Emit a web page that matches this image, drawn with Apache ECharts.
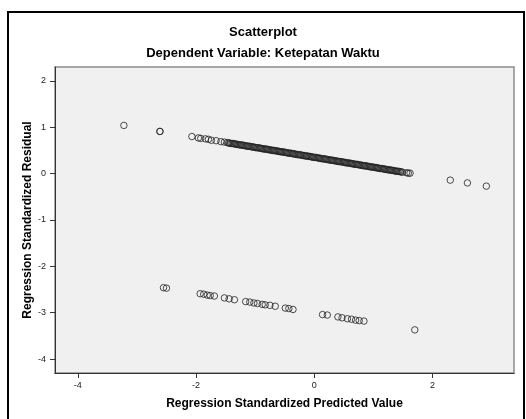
<!DOCTYPE html>
<html><head><meta charset="utf-8">
<script src="https://cdn.jsdelivr.net/npm/echarts@6/dist/echarts.min.js"></script>
<style>html,body{margin:0;padding:0;background:#fff;}#c{width:526px;height:419px;}</style>
</head><body><div id="c"></div>
<script>
const titleText = 'Scatterplot';
const subtitleText = 'Dependent Variable: Ketepatan Waktu';
const xAxisName = 'Regression Standardized Predicted Value';
const yAxisName = 'Regression Standardized Residual';
const xTicks = [-4, -2, 0, 2];
const yTicks = [-4, -3, -2, -1, 0, 1, 2];

// Upper band: isolated points on the left, then the dense band, then right outliers
const upperX = [-3.22, -2.61, -2.61, -2.07, -1.96, -1.92, -1.84, -1.79, -1.74, -1.66, -1.58, -1.52, -1.47,
  -1.45, -1.43, -1.41, -1.39, -1.37, -1.35, -1.33, -1.31, -1.29, -1.27, -1.25, -1.23, -1.21, -1.19, -1.17, -1.15, -1.13, -1.11, -1.09, -1.07, -1.05, -1.03, -1.01,
  -0.99, -0.97, -0.95, -0.93, -0.91, -0.89, -0.87, -0.85, -0.83, -0.81, -0.79, -0.77, -0.75, -0.73, -0.71, -0.69, -0.67, -0.65, -0.63, -0.61, -0.59, -0.57, -0.55, -0.53, -0.51,
  -0.49, -0.47, -0.45, -0.43, -0.41, -0.39, -0.37, -0.35, -0.33, -0.31, -0.29, -0.27, -0.25, -0.23, -0.21, -0.19, -0.17, -0.15, -0.13, -0.11, -0.09, -0.07, -0.05, -0.03, -0.01,
  0.01, 0.03, 0.05, 0.07, 0.09, 0.11, 0.13, 0.15, 0.17, 0.19, 0.21, 0.23, 0.25, 0.27, 0.29, 0.31, 0.33, 0.35, 0.37, 0.39, 0.41, 0.43, 0.45, 0.47, 0.49,
  0.51, 0.53, 0.55, 0.57, 0.59, 0.61, 0.63, 0.65, 0.67, 0.69, 0.71, 0.73, 0.75, 0.77, 0.79, 0.81, 0.83, 0.85, 0.87, 0.89, 0.91, 0.93, 0.95, 0.97, 0.99,
  1.01, 1.03, 1.05, 1.07, 1.09, 1.11, 1.13, 1.15, 1.17, 1.19, 1.21, 1.23, 1.25, 1.27, 1.29, 1.31, 1.33, 1.35, 1.37, 1.39, 1.41, 1.43, 1.45, 1.47, 1.49,
  1.56, 1.59, 1.62, 2.30, 2.59, 2.91];
const upperY = [1.04, 0.91, 0.91, 0.80, 0.77, 0.76, 0.75, 0.74, 0.72, 0.71, 0.69, 0.68, 0.67,
  0.66, 0.66, 0.65, 0.65, 0.65, 0.64, 0.64, 0.63, 0.63, 0.62, 0.62, 0.62, 0.61, 0.61, 0.60, 0.60, 0.59, 0.59, 0.59, 0.58, 0.58, 0.57, 0.57,
  0.56, 0.56, 0.56, 0.55, 0.55, 0.54, 0.54, 0.53, 0.53, 0.53, 0.52, 0.52, 0.51, 0.51, 0.50, 0.50, 0.50, 0.49, 0.49, 0.48, 0.48, 0.47, 0.47, 0.47, 0.46,
  0.46, 0.45, 0.45, 0.44, 0.44, 0.44, 0.43, 0.43, 0.42, 0.42, 0.41, 0.41, 0.41, 0.40, 0.40, 0.39, 0.39, 0.38, 0.38, 0.38, 0.37, 0.37, 0.36, 0.36, 0.35,
  0.35, 0.35, 0.34, 0.34, 0.33, 0.33, 0.32, 0.32, 0.32, 0.31, 0.31, 0.30, 0.30, 0.29, 0.29, 0.29, 0.28, 0.28, 0.27, 0.27, 0.26, 0.26, 0.26, 0.25, 0.25,
  0.24, 0.24, 0.23, 0.23, 0.23, 0.22, 0.22, 0.21, 0.21, 0.20, 0.20, 0.20, 0.19, 0.19, 0.18, 0.18, 0.17, 0.17, 0.17, 0.16, 0.16, 0.15, 0.15, 0.14, 0.14,
  0.14, 0.13, 0.13, 0.12, 0.12, 0.11, 0.11, 0.11, 0.10, 0.10, 0.09, 0.09, 0.08, 0.08, 0.08, 0.07, 0.07, 0.06, 0.06, 0.05, 0.05, 0.05, 0.04, 0.04, 0.03,
  0.02, 0.01, 0.01, -0.14, -0.20, -0.27];

// Lower band
const lowerX = [-2.55, -2.50, -1.93, -1.87, -1.81, -1.76, -1.69, -1.52, -1.44, -1.35, -1.16, -1.09, -1.02, -0.96, -0.88, -0.83, -0.75, -0.66, -0.49, -0.43, -0.36, 0.14, 0.22, 0.40, 0.47, 0.56, 0.63, 0.70, 0.76, 0.84, 1.70];
const lowerY = [-2.46, -2.47, -2.59, -2.60, -2.62, -2.63, -2.64, -2.68, -2.70, -2.72, -2.76, -2.77, -2.79, -2.80, -2.82, -2.83, -2.84, -2.86, -2.90, -2.91, -2.93, -3.04, -3.05, -3.09, -3.11, -3.13, -3.14, -3.16, -3.17, -3.18, -3.37];

const points = upperX.map((x, i) => [x, upperY[i]]).concat(lowerX.map((x, i) => [x, lowerY[i]]));

const FONT = '"Liberation Sans", Arial, sans-serif';
const chart = echarts.init(document.getElementById('c'), null, {renderer: 'canvas'});
chart.setOption({
  animation: false,
  backgroundColor: '#ffffff',
  textStyle: {fontFamily: FONT},
  title: [
    {text: titleText, left: 'center', top: 26, padding: 0,
     textStyle: {fontFamily: FONT, fontSize: 13, fontWeight: 'bold', color: '#000'}},
    {text: subtitleText, left: 'center', top: 47, padding: 0,
     textStyle: {fontFamily: FONT, fontSize: 13, fontWeight: 'bold', color: '#000'}}
  ],
  graphic: [
    {type: 'rect', shape: {x: 8, y: 12, width: 516, height: 440},
     style: {fill: 'none', stroke: '#000', lineWidth: 2}, z: 100, silent: true}
  ],
  grid: {left: 55, top: 67, right: 12, bottom: 46, show: true,
         backgroundColor: '#f0f0f0', borderColor: '#8c8c8c', borderWidth: 1.5},
  xAxis: {
    type: 'value', min: -4.385, max: 3.378,
    name: xAxisName, nameLocation: 'middle', nameGap: 25, nameMoveOverlap: false,
    nameTextStyle: {fontFamily: FONT, fontSize: 12, fontWeight: 'bold', color: '#000'},
    axisLine: {show: true, onZero: false, lineStyle: {color: '#333', width: 1}},
    axisTick: {show: true, inside: false, length: 5, customValues: xTicks, lineStyle: {color: '#333'}},
    axisLabel: {customValues: xTicks, fontSize: 9, color: '#222', margin: 8, fontFamily: FONT},
    splitLine: {show: false}
  },
  yAxis: {
    type: 'value', min: -4.30, max: 2.30,
    name: yAxisName, nameLocation: 'middle', nameGap: 21, nameRotate: 90, nameMoveOverlap: false,
    nameTextStyle: {fontFamily: FONT, fontSize: 12, fontWeight: 'bold', color: '#000'},
    axisLine: {show: true, onZero: false, lineStyle: {color: '#333', width: 1}},
    axisTick: {show: true, inside: false, length: 5, customValues: yTicks, lineStyle: {color: '#333'}},
    axisLabel: {customValues: yTicks, fontSize: 9, color: '#222', margin: 9, fontFamily: FONT},
    splitLine: {show: false}
  },
  series: [{
    type: 'scatter',
    data: points,
    symbol: 'circle',
    symbolSize: 6.5,
    itemStyle: {color: 'rgba(0,0,0,0)', borderColor: '#222', borderWidth: 1},
    emphasis: {disabled: true}
  }]
});
</script>
</body></html>
